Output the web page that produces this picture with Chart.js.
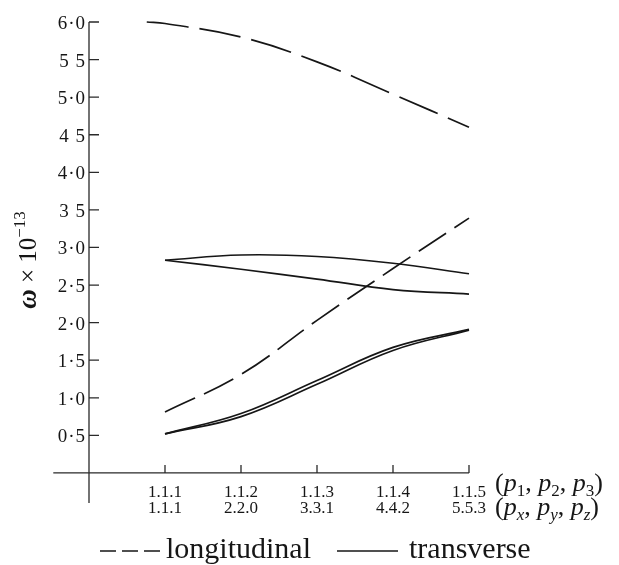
<!DOCTYPE html>
<html>
<head>
<meta charset="utf-8">
<script src="https://cdn.jsdelivr.net/npm/chart.js@4.4.1/dist/chart.umd.min.js"></script>
<style>
  body { margin: 0; background: #ffffff; }
</style>
</head>
<body>
<canvas id="dispersion" width="619" height="565"></canvas>
<script>
// wave vector labels along the x axis
var positions = [1, 2, 3, 4, 5];
var labelsP = ['1.1.1', '1.1.2', '1.1.3', '1.1.4', '1.1.5'];
var labelsPxyz = ['1.1.1', '2.2.0', '3.3.1', '4.4.2', '5.5.3'];

// y tick values and how they are printed
var yTickValues = [0.5, 1.0, 1.5, 2.0, 2.5, 3.0, 3.5, 4.0, 4.5, 5.0, 5.5, 6.0];
var yTickLabels = ['0·5', '1·0', '1·5', '2·0', '2·5', '3·0', '3 5', '4·0', '4 5', '5·0', '5 5', '6·0'];

// longitudinal branches (upper one starts a little before 1.1.1)
var longUpperX = [0.76, 1, 2, 3, 4, 5];
var longUpper = [6.00, 5.98, 5.80, 5.47, 5.04, 4.60];
var longLower = [0.81, 1.31, 2.03, 2.72, 3.39];

// transverse branches, two pairs
var transUpperA = [2.83, 2.90, 2.88, 2.79, 2.65];
var transUpperB = [2.83, 2.71, 2.58, 2.44, 2.38];
var transLowerA = [0.52, 0.79, 1.23, 1.67, 1.91];
var transLowerB = [0.52, 0.75, 1.18, 1.63, 1.90];

var ink = '#161616';
var serif = '"Liberation Serif", "DejaVu Serif", serif';

function toPoints(xs, ys) {
    var pts = [];
    for (var i = 0; i < ys.length; i++) {
        pts.push({ x: xs[i], y: ys[i] });
    }
    return pts;
}

function branch(xs, ys, dash) {
    return {
        data: toPoints(xs, ys),
        borderColor: ink,
        borderWidth: 1.7,
        borderDash: dash,
        pointRadius: 0,
        tension: 0.4,
        clip: false
    };
}

// draws a run of text pieces side by side, returns the end x
function drawParts(ctx, x, y, parts) {
    for (var i = 0; i < parts.length; i++) {
        var p = parts[i];
        ctx.font = p.font;
        ctx.fillText(p.t, x, y + (p.dy || 0));
        x += ctx.measureText(p.t).width;
    }
    return x;
}

function partsWidth(ctx, parts) {
    var w = 0;
    for (var i = 0; i < parts.length; i++) {
        ctx.font = parts[i].font;
        w += ctx.measureText(parts[i].t).width;
    }
    return w;
}

var axesPlugin = {
    id: 'axesPlugin',
    beforeDatasetsDraw: function (chart) {
        var ctx = chart.ctx;
        var xs = chart.scales.x;
        var ys = chart.scales.y;
        var x0 = xs.getPixelForValue(0);
        var y0 = ys.getPixelForValue(0);

        ctx.save();
        ctx.strokeStyle = '#2a2a2a';
        ctx.lineWidth = 1.3;

        // axis lines
        ctx.beginPath();
        ctx.moveTo(x0, ys.getPixelForValue(6.0));
        ctx.lineTo(x0, ys.getPixelForValue(-0.4));
        ctx.moveTo(xs.getPixelForValue(-0.47), y0);
        ctx.lineTo(xs.getPixelForValue(5), y0);
        ctx.stroke();

        // y ticks point inward
        ctx.beginPath();
        for (var i = 0; i < yTickValues.length; i++) {
            var py = ys.getPixelForValue(yTickValues[i]);
            ctx.moveTo(x0, py);
            ctx.lineTo(x0 + 10, py);
        }
        // x ticks point up
        for (var j = 0; j < positions.length; j++) {
            var px = xs.getPixelForValue(positions[j]);
            ctx.moveTo(px, y0);
            ctx.lineTo(px, y0 - 8);
        }
        ctx.stroke();

        ctx.fillStyle = ink;
        ctx.textBaseline = 'alphabetic';

        // y tick labels
        ctx.font = '19px ' + serif;
        ctx.letterSpacing = '1px';
        ctx.textAlign = 'right';
        for (var k = 0; k < yTickValues.length; k++) {
            ctx.fillText(yTickLabels[k], x0 - 3, ys.getPixelForValue(yTickValues[k]) + 7);
        }
        ctx.letterSpacing = '0px';

        // x tick labels, two rows
        ctx.font = '17px ' + serif;
        ctx.textAlign = 'center';
        for (var m = 0; m < positions.length; m++) {
            var lx = xs.getPixelForValue(positions[m]);
            ctx.fillText(labelsP[m], lx, y0 + 24);
            ctx.fillText(labelsPxyz[m], lx, y0 + 40);
        }

        // axis names at the right end
        ctx.textAlign = 'left';
        var big = '26px ' + serif;
        var it = 'italic 26px ' + serif;
        var sub = 'italic 17px ' + serif;
        var subN = '17px ' + serif;
        var ax = xs.getPixelForValue(5) + 26;
        drawParts(ctx, ax, y0 + 18, [
            { t: '(', font: big }, { t: 'p', font: it }, { t: '1', font: subN, dy: 5 },
            { t: ', ', font: big }, { t: 'p', font: it }, { t: '2', font: subN, dy: 5 },
            { t: ', ', font: big }, { t: 'p', font: it }, { t: '3', font: subN, dy: 5 },
            { t: ')', font: big }
        ]);
        drawParts(ctx, ax, y0 + 42, [
            { t: '(', font: big }, { t: 'p', font: it }, { t: 'x', font: sub, dy: 5 },
            { t: ', ', font: big }, { t: 'p', font: it }, { t: 'y', font: sub, dy: 5 },
            { t: ', ', font: big }, { t: 'p', font: it }, { t: 'z', font: sub, dy: 5 },
            { t: ')', font: big }
        ]);

        // y axis title, rotated
        var title = [
            { t: 'ω', font: 'bold italic 27px ' + serif },
            { t: ' × 10', font: '25px ' + serif },
            { t: '−13', font: '17px ' + serif, dy: -11 }
        ];
        ctx.save();
        ctx.translate(36, 260);
        ctx.rotate(-Math.PI / 2);
        drawParts(ctx, -partsWidth(ctx, title) / 2, 0, title);
        ctx.restore();

        // legend
        var ly = 551;
        ctx.lineWidth = 1.6;
        ctx.strokeStyle = ink;
        ctx.setLineDash([16, 6]);
        ctx.beginPath();
        ctx.moveTo(100, ly);
        ctx.lineTo(160, ly);
        ctx.stroke();
        ctx.setLineDash([]);
        ctx.beginPath();
        ctx.moveTo(337, ly);
        ctx.lineTo(398, ly);
        ctx.stroke();
        ctx.font = '30px ' + serif;
        ctx.fillText('longitudinal', 166, 558);
        ctx.fillText('transverse', 409, 558);

        ctx.restore();
    }
};

var dispersionChart = new Chart(document.getElementById('dispersion'), {
    type: 'line',
    data: {
        datasets: [
            branch(longUpperX, longUpper, [42, 11]),
            branch(positions, longLower, [33, 10]),
            branch(positions, transUpperA, []),
            branch(positions, transUpperB, []),
            branch(positions, transLowerA, []),
            branch(positions, transLowerB, [])
        ]
    },
    options: {
        responsive: false,
        animation: false,
        layout: { padding: { left: 89, right: 150, top: 22, bottom: 62 } },
        scales: {
            x: { type: 'linear', min: 0, max: 5, display: false },
            y: { type: 'linear', min: -0.4, max: 6.0, display: false }
        },
        plugins: {
            legend: { display: false },
            tooltip: { enabled: false }
        }
    },
    plugins: [axesPlugin]
});
</script>
</body>
</html>
